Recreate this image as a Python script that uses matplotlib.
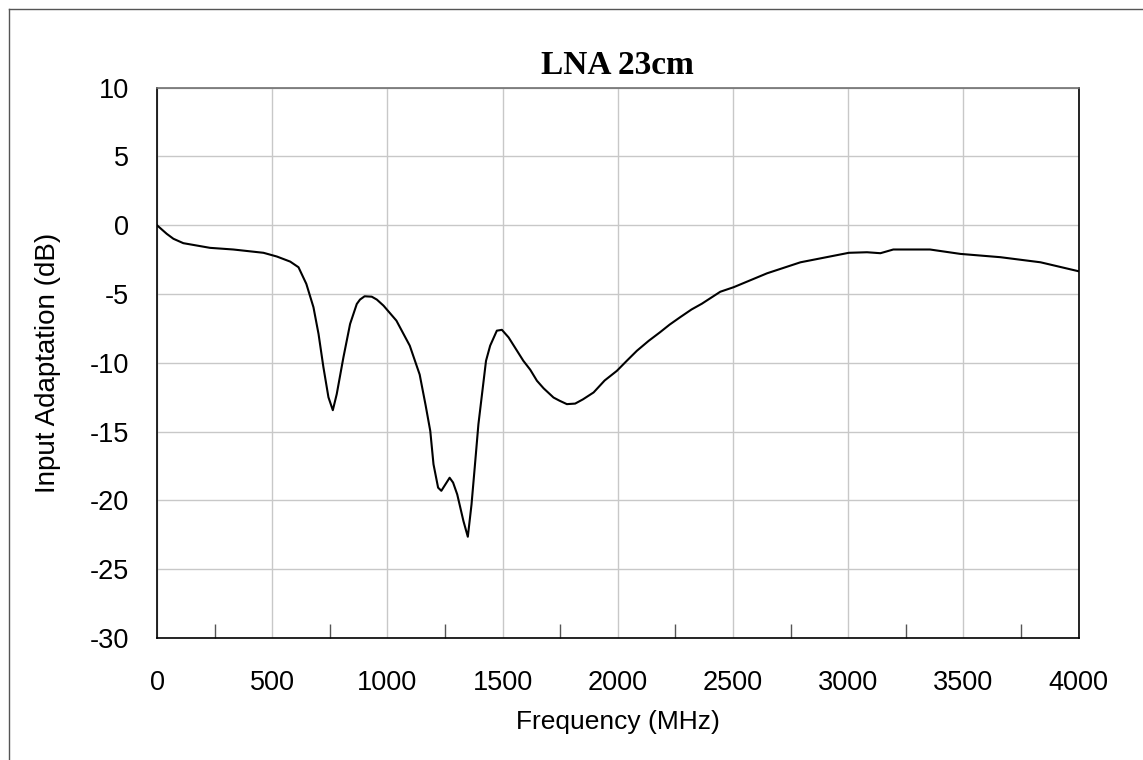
import matplotlib
matplotlib.use('Agg')
import matplotlib.pyplot as plt
from matplotlib.ticker import MultipleLocator, FixedLocator
from matplotlib.lines import Line2D

plt.rcParams['axes.unicode_minus'] = False

# Measured input adaptation (S11) of the 23cm LNA
freq_mhz = [0, 42, 71, 114, 230, 331, 462, 520, 578, 614, 648, 679, 701, 722,
            744, 763, 780, 809, 838, 867, 881, 901, 932, 954, 983, 1039, 1097,
            1140, 1166, 1186, 1200, 1220, 1234, 1270, 1285, 1303, 1330, 1349,
            1365, 1379, 1395, 1409, 1428, 1446, 1475, 1497, 1526, 1590, 1620,
            1649, 1678, 1721, 1747, 1779, 1815, 1849, 1895, 1943, 1996, 2039,
            2083, 2134, 2183, 2225, 2270, 2320, 2365, 2445, 2503, 2648, 2793,
            3003, 3082, 3140, 3196, 3355, 3487, 3661, 3835, 4000]
s11_db = [0.0, -0.62, -0.98, -1.30, -1.64, -1.76, -2.00, -2.27, -2.64, -3.05,
          -4.26, -5.96, -7.90, -10.3, -12.5, -13.44, -12.27, -9.6, -7.17,
          -5.72, -5.4, -5.16, -5.19, -5.4, -5.84, -6.93, -8.75, -10.85, -13.1,
          -14.95, -17.37, -19.07, -19.3, -18.35, -18.7, -19.56, -21.5, -22.64,
          -20.3, -17.6, -14.46, -12.5, -9.85, -8.75, -7.66, -7.6, -8.15,
          -9.85, -10.5, -11.3, -11.85, -12.52, -12.75, -13.0, -12.96, -12.65,
          -12.15, -11.28, -10.58, -9.85, -9.12, -8.4, -7.78, -7.22, -6.69,
          -6.12, -5.7, -4.83, -4.5, -3.49, -2.69, -2.0, -1.96, -2.03, -1.76,
          -1.76, -2.08, -2.32, -2.69, -3.34]

title = 'LNA 23cm'
xlabel = 'Frequency (MHz)'
ylabel = 'Input Adaptation (dB)'

sans = 'Liberation Sans'
serif = 'Liberation Serif'

fig = plt.figure(figsize=(11.43, 7.6), dpi=100)
ax = fig.add_axes([0.1374, 0.1605, 0.8062, 0.7241])

ax.plot(freq_mhz, s11_db, color='black', linewidth=1.5)

ax.set_xlim(0, 4000)
ax.set_ylim(-30, 10)

# gridlines on 500 MHz / 5 dB, small inward ticks between the gridlines
ax.xaxis.set_major_locator(MultipleLocator(500))
ax.xaxis.set_minor_locator(FixedLocator([250 + 500 * k for k in range(8)]))
ax.yaxis.set_major_locator(MultipleLocator(5))
ax.grid(True, which='major', color='#c8c8c8', linewidth=1.0)
ax.set_axisbelow(True)

ax.tick_params(axis='x', which='major', length=0, pad=23, labelsize=19.5)
ax.tick_params(axis='x', which='minor', direction='in', length=10,
               width=1.0, color='#555555')
ax.tick_params(axis='y', which='major', length=0, pad=20, labelsize=19.5)
for lbl in ax.get_xticklabels() + ax.get_yticklabels():
    lbl.set_fontfamily(sans)

for side in ['left', 'bottom', 'right']:
    ax.spines[side].set_color('black')
    ax.spines[side].set_linewidth(1.2)
ax.spines['top'].set_color('#707070')
ax.spines['top'].set_linewidth(1.2)

ax.set_xlabel(xlabel, fontsize=19, family=sans)
ax.set_ylabel(ylabel, fontsize=20, family=sans)
ax.xaxis.set_label_coords(0.5, -0.131)
ax.yaxis.set_label_coords(-0.104, 0.5)

ax.set_title(title, fontsize=24, family=serif, fontweight='bold', pad=10)

# outer chart border (only left and top edges visible)
fig.add_artist(Line2D([9 / 1143, 9 / 1143], [0, 1 - 9 / 760],
                      transform=fig.transFigure, color='#555555', linewidth=1.0))
fig.add_artist(Line2D([9 / 1143, 1], [1 - 9 / 760, 1 - 9 / 760],
                      transform=fig.transFigure, color='#555555', linewidth=1.0))

fig.savefig('out.png', dpi=100, facecolor='white')
